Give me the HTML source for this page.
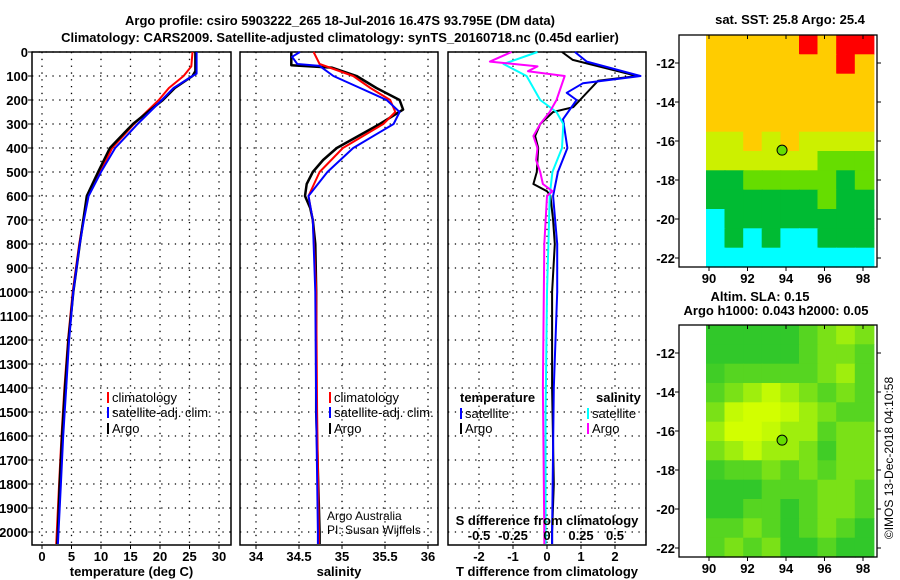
<!DOCTYPE html>
<html><head><meta charset="utf-8"><style>
html,body{margin:0;padding:0;background:#fff;}
svg{display:block;font-family:"Liberation Sans",sans-serif;}
.t{font-weight:bold;font-size:13px;fill:#000;}
.n{font-size:12px;fill:#000;}
</style></head><body>
<svg id="chart" width="900" height="580" viewBox="0 0 900 580" xmlns="http://www.w3.org/2000/svg">
<text class="t" x="340" y="25" text-anchor="middle" font-size="14">Argo profile: csiro 5903222_265 18-Jul-2016 16.47S 93.795E (DM data)</text>
<text class="t" x="340" y="42" text-anchor="middle" font-size="14">Climatology: CARS2009. Satellite-adjusted climatology: synTS_20160718.nc (0.45d earlier)</text>
<text class="t" x="790" y="24" text-anchor="middle">sat. SST: 25.8 Argo: 25.4</text>
<text class="t" x="760" y="301" text-anchor="middle">Altim. SLA: 0.15</text>
<text class="t" x="776" y="315" text-anchor="middle">Argo h1000: 0.043 h2000: 0.05</text>
<text class="n" transform="translate(893,458) rotate(-90)" text-anchor="middle">©IMOS 13-Dec-2018 04:10:58</text>
<g id="g"></g>
</svg>
<script>
// ---- data ----
const depthTicks = [0,100,200,300,400,500,600,700,800,900,1000,1100,1200,1300,1400,1500,1600,1700,1800,1900,2000];
const tempTicks = [0,5,10,15,20,25,30];
const salTicks = [34,34.5,35,35.5,36];
const salTickLabels = ['34','34.5','35','35.5','36'];
const tdiffTicks = [-2,-1,0,1,2];
const sdiffTicks = [-0.5,-0.25,0,0.25,0.5];
const sdiffTickLabels = ['-0.5','-0.25','0','0.25','0.5'];

const tArgoDepth = [0,80,100,150,200,300,400,500,600,700,800,1000,1200,1400,1600,1800,2000,2050];
const tArgo = [26,26,25.5,22.5,20.5,15.4,11.5,9.5,7.6,7.0,6.4,5.3,4.5,3.9,3.4,3.0,2.7,2.6];
const tClimDepth = [0,60,100,150,200,300,400,500,600,700,800,1000,1200,1400,1600,1800,2000,2050];
const tClim = [25.5,25.3,24.0,21.5,19.8,15.6,11.9,9.8,7.8,7.0,6.3,5.2,4.4,3.8,3.3,2.9,2.5,2.4];
const tSatDepth = [0,90,100,150,200,300,400,500,600,700,800,1000,1200,1400,1600,1800,2000,2050];
const tSat = [26.2,26.2,25.5,22.3,20.3,16.2,12.4,10.0,7.9,7.1,6.4,5.3,4.6,4.1,3.6,3.2,2.8,2.7];

const sArgoDepth = [0,55,65,100,150,200,240,300,400,450,500,550,600,650,700,800,1000,1500,2000,2050];
const sArgo = [34.41,34.41,34.88,35.17,35.40,35.67,35.71,35.44,34.94,34.78,34.66,34.59,34.57,34.63,34.66,34.69,34.70,34.70,34.74,34.74];
const sClimDepth = [0,50,100,150,200,250,300,400,500,600,700,1000,1500,2000,2050];
const sClim = [34.67,34.74,35.13,35.33,35.56,35.62,35.48,35.01,34.74,34.61,34.66,34.70,34.71,34.73,34.73];
const sSatDepth = [0,20,50,58,100,150,200,250,300,400,500,600,700,1000,1500,2000,2050];
const sSat = [34.51,34.42,34.48,34.74,34.90,35.21,35.52,35.67,35.60,35.13,34.83,34.61,34.66,34.69,34.70,34.72,34.72];

const dDepth = [0,33,100,120,200,230,250,300,350,400,500,550,580,600,700,800,1000,1400,1800,2000,2050];
const dT_argo = [0.44,0.76,2.65,1.5,0.97,0.77,0.18,-0.2,-0.35,-0.26,-0.3,-0.4,0,0.1,0.18,0.23,0.15,0.15,0.2,0.15,0.15];
const dT_satDepth = [0,40,100,130,170,200,280,400,500,600,800,1000,1400,2000,2050];
const dT_sat = [0.82,1.17,2.75,1.06,0.58,0.87,0.47,0.6,0.32,0.18,0.3,0.3,0.2,0.15,0.15];
const dS_satDepth = [0,50,100,200,250,300,400,500,600,800,1000,1500,2000,2050];
const dS_sat = [-0.07,-0.32,-0.15,-0.05,0.07,0.12,0.11,0.04,0.02,0.01,0,-0.01,-0.01,-0.01];
const dS_argoDepth = [0,40,60,80,100,150,200,250,300,350,400,450,500,550,580,600,800,1400,2000,2050];
const dS_argo = [-0.26,-0.42,-0.07,-0.14,0.13,0.1,0.07,0.02,-0.05,-0.1,-0.07,-0.08,-0.05,-0.03,0.04,0,-0.02,-0.03,-0.02,-0.02];

const lonTicks = [90,92,94,96,98];
const latTicks = [-12,-14,-16,-18,-20,-22];
const mapLons = [90.33,91.3,92.27,93.23,94.2,95.17,96.13,97.1,98.07];
const mapLats = [-11.85,-12.75,-13.65,-14.55,-15.45,-16.35,-17.25,-18.15,-19.05,-19.95,-20.85,-21.8];
const sstGrid = [
[25.6,25.6,25.6,25.6,25.6,25.9,25.6,25.9,25.9],
[25.6,25.6,25.6,25.6,25.6,25.6,25.6,25.9,25.6],
[25.6,25.6,25.6,25.6,25.6,25.6,25.6,25.6,25.6],
[25.6,25.6,25.6,25.6,25.6,25.6,25.6,25.6,25.6],
[25.5,25.5,25.6,25.6,25.6,25.6,25.6,25.5,25.5],
[25.3,25.4,25.5,25.3,25.5,25.4,25.3,25.3,25.3],
[25.3,25.3,25.2,25.2,25.3,25.2,25.0,25.0,25.1],
[24.8,24.8,24.9,25.0,24.9,25.1,24.9,24.8,24.9],
[24.6,24.7,24.7,24.7,24.6,24.8,25.0,24.8,24.8],
[24.3,24.5,24.6,24.6,24.6,24.7,24.7,24.7,24.7],
[24.3,24.5,24.4,24.5,24.3,24.3,24.5,24.5,24.5],
[24.2,24.3,24.2,24.2,24.3,24.2,24.3,24.0,24.2]];
const slaGrid = [
[0,0,0,0,0,0.05,0.1,0.15,0.1],
[0,0,0,0,0,0.05,0.1,0.1,0.05],
[0.02,0.05,0.05,0.05,0.05,0.05,0.1,0.15,0.05],
[0.05,0.1,0.15,0.2,0.15,0.1,0.05,0.1,0.05],
[0.1,0.2,0.25,0.25,0.2,0.15,0.1,0.05,0.05],
[0.15,0.25,0.25,0.2,0.15,0.15,0.05,0.1,0.1],
[0.1,0.15,0.2,0.15,0.15,0.1,0.02,0.1,0.1],
[0.02,0.05,0.05,0.1,0.05,0.1,0.05,0.1,0.1],
[0,0,0,0.05,0.05,0.05,0.1,0.1,0.05],
[0,0,0.05,0.05,0,0.05,0.1,0.1,0.05],
[0.05,0.05,0.1,0.05,0,0.05,0.1,0.05,0],
[0.05,0.1,0.05,0.1,0,0,0.05,0,0]];
const floatLon = 93.795, floatLat = -16.47;

// ---- helpers ----
const NS='http://www.w3.org/2000/svg';
const G=document.getElementById('g');
function el(tag,attrs,parent){const e=document.createElementNS(NS,tag);for(const k in attrs)e.setAttribute(k,attrs[k]);(parent||G).appendChild(e);return e;}
const TOP=52, PXM=0.24, BOT=545;
const yD = d => TOP + d*PXM;

const panels = [
 {name:'temperature',x0:32,x1:231,sx:v=>42+v*5.9,ticks:tempTicks,labels:tempTicks.map(String),title:'temperature (deg C)'},
 {name:'salinity',x0:240,x1:438,sx:v=>256+(v-34)*86,ticks:salTicks,labels:salTickLabels,title:'salinity'},
 {name:'difference',x0:448,x1:646,sx:v=>547+v*34,ticks:tdiffTicks,labels:tdiffTicks.map(String),title:'T difference from climatology'}];

panels.forEach((p,pi)=>{
  const grp=el('g',{});
  
  
  depthTicks.forEach(d=>{
    const l=el('line',{x1:p.x0,x2:p.x1,y1:yD(d),y2:yD(d),stroke:'#000','stroke-width':1.3,'stroke-dasharray':'1.3 5.5'},grp);
    
    
  });
  p.ticks.forEach((v,i)=>{
    const x=p.sx(v);
    const l=el('line',{x1:x,x2:x,y1:TOP,y2:BOT,stroke:'#000','stroke-width':1.3,'stroke-dasharray':'1.3 5.5'},grp);
    
    
    el('line',{x1:x,x2:x,y1:BOT,y2:BOT+4,stroke:'#000'},grp);
    const t=el('text',{x:x,y:561,'text-anchor':'middle',class:'t'},grp);
    t.textContent=p.labels[i];
    
    
  });
  const tt=el('text',{x:(p.x0+p.x1)/2,y:576,'text-anchor':'middle',class:'t'},grp);
  tt.textContent=p.title;
  
  
  const r=el('rect',{x:p.x0,y:TOP,width:p.x1-p.x0,height:BOT-TOP,fill:'none',stroke:'#000','stroke-width':1.5},grp);
  
  
});
depthTicks.forEach(d=>{
  const t=el('text',{x:28,y:yD(d)+5,'text-anchor':'end',class:'t'});
  t.textContent=String(d);
  
  
  el('line',{x1:28,x2:32,y1:yD(d),y2:yD(d),stroke:'#000'});
});

function series(xs,ds,sx,color,w,name){
  const pts=xs.map((v,i)=>sx(v).toFixed(1)+','+yD(ds[i]).toFixed(1)).join(' ');
  const l=el('polyline',{points:pts,fill:'none',stroke:color,'stroke-width':w,'stroke-linejoin':'round'});
  
  
}
const sxT=panels[0].sx, sxS=panels[1].sx, sxD=panels[2].sx, sxSD=v=>547+v*136;
series(tClim,tClimDepth,sxT,'#f00',2,'temp-climatology-line');
series(tArgo,tArgoDepth,sxT,'#000',2.5,'temp-argo-line');
series(tSat,tSatDepth,sxT,'#00f',2,'temp-satellite-line');
series(sArgo,sArgoDepth,sxS,'#000',2.5,'sal-argo-line');
series(sClim,sClimDepth,sxS,'#f00',2,'sal-climatology-line');
series(sSat,sSatDepth,sxS,'#00f',2,'sal-satellite-line');
series(dT_argo,dDepth,sxD,'#000',2,'tdiff-argo-line');
series(dT_sat,dT_satDepth,sxD,'#00f',2,'tdiff-satellite-line');
series(dS_sat,dS_satDepth,sxSD,'#0ff',2,'sdiff-satellite-line');
series(dS_argo,dS_argoDepth,sxSD,'#f0f',2,'sdiff-argo-line');

const sdt=el('text',{x:547,y:525,'text-anchor':'middle',class:'t'});
sdt.textContent='S difference from climatology';


sdiffTicks.forEach((v,i)=>{
  const t=el('text',{x:sxSD(v),y:540,'text-anchor':'middle',class:'t'});
  t.textContent=sdiffTickLabels[i];
  
  
});

function legend(x,y,color,label,name){
  const m=el('rect',{x:x,y:y-9,width:2,height:11,fill:color});
  const t=el('text',{x:x+5,y:y+1,class:'t',style:'font-weight:normal;font-size:13px'});
  t.textContent=label;
  
  
  
  
}
legend(107,401,'#f00','climatology','legend-climatology');
legend(107,416,'#00f','satellite-adj. clim.','legend-satellite');
legend(107,432,'#000','Argo','legend-argo');
legend(329,401,'#f00','climatology','legend-sal-climatology');
legend(329,416,'#00f','satellite-adj. clim.','legend-sal-satellite');
legend(329,432,'#000','Argo','legend-sal-argo');
const lt=el('text',{x:460,y:402,class:'t'});lt.textContent='temperature';

const ls=el('text',{x:596,y:402,class:'t'});ls.textContent='salinity';

legend(460,417,'#00f','satellite','legend-t-satellite');
legend(460,432,'#000','Argo','legend-t-argo');
legend(587,417,'#0ff','satellite','legend-s-satellite');
legend(587,432,'#f0f','Argo','legend-s-argo');
const c1=el('text',{x:327,y:520,class:'n',style:'font-size:12px'});c1.textContent='Argo Australia';

const c2=el('text',{x:327,y:534,class:'n',style:'font-size:12px'});c2.textContent='PI: Susan Wijffels';


// maps
function sstColor(v){return v>=25.8?'#ff0000':v>=25.5?'#ffcc00':v>=25.15?'#ccf000':v>=24.85?'#66dd00':v>=24.45?'#00bb33':'#00ffff';}
function slaColor(v){const f=Math.max(0,Math.min(1,(v+0.04)/0.26));const r=Math.round(20+190*f),g=Math.round(190+65*f),b=Math.round(50-50*f);return `rgb(${r},${g},${b})`;}
function map(top,bottom,grid,colorFn,name){
  const L=679,R=877,DL=706;
  const sx=lon=>709+(lon-90)*19.25;
  const sy=lat=>(top+28)+(-12-lat)*((bottom-top-37)/10) ;
  const cw=(R-DL)/mapLons.length, ch=(bottom-top)/mapLats.length;
  grid.forEach((row,ri)=>row.forEach((v,ci)=>{
    const c=el('rect',{x:(sx(mapLons[ci])-cw/2).toFixed(1),y:(top+ri*ch).toFixed(1),width:(cw+0.6).toFixed(1),height:(ch+0.6).toFixed(1),fill:colorFn(v)});
    
    
  }));
  el('rect',{x:L+1,y:top,width:DL-L-1,height:bottom-top,fill:'#fff'});
  const f=el('rect',{x:L,y:top,width:R-L,height:bottom-top,fill:'none',stroke:'#000','stroke-width':1.3});
  
  
  lonTicks.forEach(v=>{
    el('line',{x1:sx(v),x2:sx(v),y1:top,y2:top+4,stroke:'#000'});
    el('line',{x1:sx(v),x2:sx(v),y1:bottom,y2:bottom+4,stroke:'#000'});
    const t=el('text',{x:sx(v),y:bottom+16,'text-anchor':'middle',class:'t'});t.textContent=String(v);
    
  });
  latTicks.forEach(v=>{
    el('line',{x1:R,x2:R+4,y1:sy(v),y2:sy(v),stroke:'#000'});
    el('line',{x1:L-4,x2:L,y1:sy(v),y2:sy(v),stroke:'#000'});
    const t=el('text',{x:L-4,y:sy(v)+5,'text-anchor':'end',class:'t'});t.textContent=String(v);
    
  });
  const m=el('circle',{cx:sx(floatLon),cy:sy(floatLat),r:5,fill:'#66dd00',stroke:'#000'});
  
  
}
map(35,267,sstGrid,sstColor,'sst-map');
map(325,557,slaGrid,slaColor,'sla-map');
</script>
</body></html>
